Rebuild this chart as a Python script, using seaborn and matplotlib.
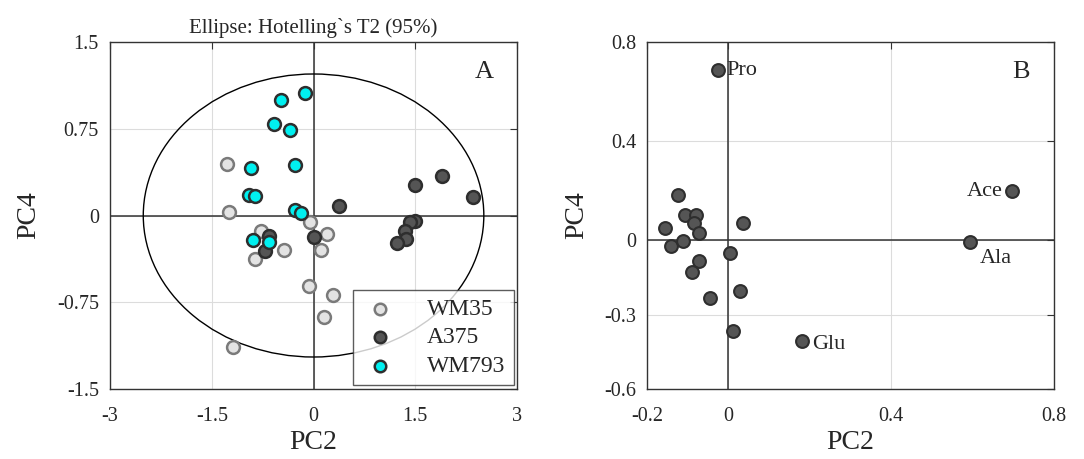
import matplotlib
matplotlib.use("Agg")
import matplotlib.pyplot as plt
from matplotlib.patches import Ellipse
import pandas as pd
import seaborn as sns

sns.set_style("whitegrid")
plt.rcParams['font.family'] = ['Liberation Serif', 'DejaVu Serif']

# panel A scores (PC2, PC4)
wm35_pc2 = [-1.28, -1.24, -0.05, -0.78, 0.20, -0.44, 0.11, -0.86, -0.07, 0.28, 0.15, -1.18]
wm35_pc4 = [0.45, 0.03, -0.06, -0.13, -0.16, -0.30, -0.30, -0.38, -0.61, -0.69, -0.88, -1.14]
a375_pc2 = [0.38, 1.49, 1.90, 2.35, 1.50, 1.42, 1.35, 1.37, 1.23, 0.01, -0.65, -0.71]
a375_pc4 = [0.08, 0.26, 0.34, 0.16, -0.05, -0.06, -0.13, -0.20, -0.24, -0.19, -0.18, -0.31]
wm793_pc2 = [-0.13, -0.48, -0.59, -0.34, -0.92, -0.27, -0.95, -0.86, -0.28, -0.18, -0.89, -0.65]
wm793_pc4 = [1.06, 1.00, 0.79, 0.74, 0.41, 0.44, 0.18, 0.17, 0.05, 0.02, -0.21, -0.23]
groups = ["WM35", "A375", "WM793"]

# panel B loadings
load_pc2 = [-0.026, -0.125, -0.156, -0.108, -0.081, -0.084, -0.072, 0.036, -0.141, -0.111,
            0.005, -0.073, -0.090, 0.028, -0.045, 0.012, 0.181, 0.698, 0.594]
load_pc4 = [0.686, 0.182, 0.051, 0.103, 0.101, 0.069, 0.030, 0.069, -0.022, -0.005,
            -0.051, -0.084, -0.127, -0.204, -0.234, -0.366, -0.408, 0.197, -0.009]
load_names = ["Pro", "", "", "", "", "", "", "", "", "", "", "", "", "", "", "", "Glu", "Ace", "Ala"]

scores = pd.concat([
    pd.DataFrame({"PC2": wm35_pc2, "PC4": wm35_pc4, "group": "WM35"}),
    pd.DataFrame({"PC2": a375_pc2, "PC4": a375_pc4, "group": "A375"}),
    pd.DataFrame({"PC2": wm793_pc2, "PC4": wm793_pc4, "group": "WM793"}),
])
loads = pd.DataFrame({"PC2": load_pc2, "PC4": load_pc4, "name": load_names})

fills = {"WM35": "#e3e3e3", "A375": "#555555", "WM793": "#00f0f0"}
edges = {"WM35": "#7a7a7a", "A375": "#2e2e2e", "WM793": "#2e2e2e"}

fig = plt.figure(figsize=(10.84, 4.59), dpi=100)
axA = fig.add_axes([0.1015, 0.153, 0.3755, 0.755])
axB = fig.add_axes([0.597, 0.153, 0.375, 0.755])


def style(ax):
    ax.grid(True, color="#dcdcdc", lw=0.8)
    for s in ax.spines.values():
        s.set_color("#333333")
        s.set_linewidth(1.0)
    ax.tick_params(direction="in", length=5, width=0.8, top=True, right=True,
                   labelsize=14.5, color="#333333")
    ax.tick_params(axis="x", pad=13)
    ax.tick_params(axis="y", pad=8)
    ax.axhline(0, color="#333333", lw=1.1, zorder=1)
    ax.axvline(0, color="#333333", lw=1.1, zorder=1)
    ax.set_xlabel("PC2", fontsize=20, labelpad=3)
    ax.set_ylabel("PC4", fontsize=20, labelpad=11)


# panel A
for g in groups:
    sub = scores[scores["group"] == g]
    sns.scatterplot(data=sub, x="PC2", y="PC4", ax=axA, s=85, color=fills[g],
                    edgecolor=edges[g], linewidth=1.8, label=g, zorder=3)
axA.add_patch(Ellipse((0, 0), 2 * 2.51, 2 * 1.225, fill=False, edgecolor="black", lw=1.0, zorder=2))
axA.set_xlim(-3, 3)
axA.set_ylim(-1.5, 1.5)
axA.set_xticks([-3, -1.5, 0, 1.5, 3])
axA.set_xticklabels(["-3", "-1.5", "0", "1.5", "3"])
axA.set_yticks([-1.5, -0.75, 0, 0.75, 1.5])
axA.set_yticklabels(["-1.5", "-0.75", "0", "0.75", "1.5"])
style(axA)
axA.set_title("Ellipse: Hotelling`s T2 (95%)", fontsize=15, pad=7)
axA.text(0.92, 0.915, "A", transform=axA.transAxes, fontsize=19, ha="center", va="center")
leg = axA.legend(loc="lower right", fontsize=17, frameon=True, fancybox=False,
                 edgecolor="#333333", borderaxespad=0.15, handletextpad=1.2,
                 borderpad=0.35, labelspacing=0.3, markerscale=0.9, handlelength=1.6)
leg.get_frame().set_linewidth(1.0)

# panel B
sns.scatterplot(data=loads, x="PC2", y="PC4", ax=axB, s=85, color="#555555",
                edgecolor="#2e2e2e", linewidth=1.5, zorder=3)
axB.set_xlim(-0.2, 0.8)
axB.set_ylim(-0.6, 0.8)
axB.set_xticks([-0.2, 0, 0.4, 0.8])
axB.set_xticklabels(["-0.2", "0", "0.4", "0.8"])
axB.set_yticks([-0.6, -0.3, 0, 0.4, 0.8])
axB.set_yticklabels(["-0.6", "-0.3", "0", "0.4", "0.8"])
style(axB)
offsets = {"Pro": (6, 0, "left", "center"), "Glu": (7, -2, "left", "center"),
           "Ace": (-7, 0, "right", "center"), "Ala": (7, -5, "left", "top")}
for _, r in loads.iterrows():
    if r["name"] in offsets:
        dx, dy, ha, va = offsets[r["name"]]
        axB.annotate(r["name"], (r["PC2"], r["PC4"]), xytext=(dx, dy), textcoords="offset points",
                     fontsize=16, ha=ha, va=va)
axB.text(0.92, 0.915, "B", transform=axB.transAxes, fontsize=19, ha="center", va="center")

fig.savefig("out.png", dpi=100)
